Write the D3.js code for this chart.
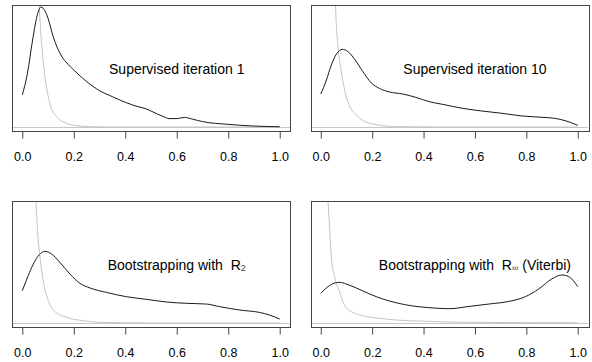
<!DOCTYPE html>
<html><head><meta charset="utf-8">
<script src="https://cdn.jsdelivr.net/npm/d3@7/dist/d3.min.js"></script>
<style>body{margin:0;background:#fff}svg{display:block}text{white-space:pre}</style>
</head><body><svg id="c" width="592" height="362"></svg>
<script>
// ---- data ----
const xTicks = [0, 0.2, 0.4, 0.6, 0.8, 1.0];
const tickLabels = ["0.0", "0.2", "0.4", "0.6", "0.8", "1.0"];
const titleMain = ["Supervised iteration 1", "Supervised iteration 10", "Bootstrapping with  R", "Bootstrapping with  R"];
const titleSub = ["", "", "2", "\u221E"];
const titleTail = ["", "", "", " (Viterbi)"];

const sup1Black = [[0,2.67],[0.02,4.47],[0.04,7.25],[0.06,9.47],[0.072,10.0],[0.09,9.6],[0.1,9.06],[0.12,7.53],[0.15,6.0],[0.18,5.17],[0.2,4.75],[0.25,3.78],[0.3,3.03],[0.35,2.53],[0.4,2.06],[0.45,1.69],[0.48,1.52],[0.5,1.33],[0.55,0.85],[0.57,0.7],[0.6,0.7],[0.63,0.8],[0.66,0.66],[0.7,0.45],[0.8,0.22],[0.9,0.08],[1.0,0.02]];
const sup1Gray = [[0.05,16],[0.06,13],[0.066,10.0],[0.075,6.97],[0.088,4.19],[0.107,1.97],[0.133,0.86],[0.172,0.31],[0.224,0.08],[0.314,0.0],[1.0,0.0]];

const sup10Black = [[0,2.75],[0.022,3.92],[0.041,5.17],[0.061,6.08],[0.084,6.47],[0.106,6.28],[0.132,5.64],[0.164,4.61],[0.196,3.69],[0.228,3.22],[0.267,2.92],[0.319,2.75],[0.37,2.47],[0.422,2.11],[0.474,1.89],[0.551,1.56],[0.628,1.33],[0.706,1.14],[0.783,0.92],[0.861,0.81],[0.912,0.72],[0.951,0.53],[1.0,0.14]];
const sup10Gray = [[0.045,16],[0.052,12.5],[0.057,10.3],[0.061,8.36],[0.067,6.69],[0.08,4.61],[0.099,2.53],[0.138,1.0],[0.203,0.25],[0.293,0.03],[0.47,0.0],[1.0,0.0]];

const boot2Black = [[0,2.69],[0.023,3.94],[0.043,4.92],[0.066,5.69],[0.088,5.97],[0.114,5.75],[0.146,5.05],[0.185,4.08],[0.224,3.3],[0.263,2.92],[0.327,2.55],[0.405,2.19],[0.483,1.97],[0.56,1.75],[0.638,1.64],[0.715,1.58],[0.767,1.36],[0.845,1.08],[0.922,0.88],[0.961,0.66],[1.0,0.33]];
const boot2Gray = [[0.04,16],[0.047,12.5],[0.053,10.2],[0.06,7.42],[0.069,5.47],[0.081,3.53],[0.101,1.86],[0.127,0.94],[0.172,0.47],[0.237,0.19],[0.301,0.06],[0.5,0.0],[1.0,0.0]];

const bootInfBlack = [[0,2.47],[0.028,3.03],[0.054,3.33],[0.074,3.39],[0.099,3.25],[0.138,2.92],[0.19,2.42],[0.241,2.0],[0.293,1.69],[0.357,1.42],[0.422,1.28],[0.499,1.19],[0.577,1.38],[0.654,1.58],[0.732,1.8],[0.796,2.19],[0.848,2.83],[0.899,3.67],[0.938,4.0],[0.957,3.94],[0.983,3.53],[1.0,3.03]];
const bootInfGray = [[0.015,16],[0.022,12.5],[0.028,10.2],[0.035,7.69],[0.041,5.47],[0.054,3.8],[0.074,2.55],[0.093,1.44],[0.125,0.88],[0.164,0.61],[0.228,0.39],[0.293,0.25],[0.422,0.14],[0.5,0.08],[0.8,0.03],[1.0,0.02]];

const blackSeries = [sup1Black, sup10Black, boot2Black, bootInfBlack];
const graySeries = [sup1Gray, sup10Gray, boot2Gray, bootInfGray];

// ---- layout ----
const boxes = [
  {x0: 12, x1: 290, y0: 5, y1: 131},
  {x0: 310.5, x1: 588, y0: 5, y1: 131},
  {x0: 12, x1: 290, y0: 201, y1: 327},
  {x0: 310.5, x1: 588, y0: 201, y1: 327}
];
const yDomain = [-0.333, 10.167];

const svg = d3.select("#c");
const font = "'Liberation Sans', Arial, Helvetica, sans-serif";

boxes.forEach((b, i) => {
  const x = d3.scaleLinear().domain([-0.04, 1.04]).range([b.x0, b.x1]);
  const y = d3.scaleLinear().domain(yDomain).range([b.y1, b.y0]);
  const g = svg.append("g");
  const cid = "clip" + i;
  svg.append("clipPath").attr("id", cid).append("rect")
    .attr("x", b.x0).attr("y", b.y0).attr("width", b.x1 - b.x0).attr("height", b.y1 - b.y0);
  const pg = g.append("g").attr("clip-path", `url(#${cid})`);

  // baseline at 0
  pg.append("line").attr("x1", b.x0).attr("x2", b.x1)
    .attr("y1", Math.round(y(0)) + 0.5).attr("y2", Math.round(y(0)) + 0.5)
    .attr("stroke", "#c8c8c8").attr("stroke-width", 1);

  const line = d3.line().x(d => x(d[0])).y(d => y(d[1])).curve(d3.curveMonotoneX);
  pg.append("path").datum(graySeries[i]).attr("d", line)
    .attr("fill", "none").attr("stroke", "#c4c4c4").attr("stroke-width", 1);
  pg.append("path").datum(blackSeries[i]).attr("d", line)
    .attr("fill", "none").attr("stroke", "#1a1a1a").attr("stroke-width", 1);

  // box
  g.append("rect").attr("x", Math.round(b.x0) + 0.5).attr("y", b.y0 + 0.5)
    .attr("width", Math.round(b.x1 - b.x0)).attr("height", b.y1 - b.y0)
    .attr("fill", "none").attr("stroke", "#444").attr("stroke-width", 1);

  // x axis
  const ax = g.append("g").attr("transform", `translate(0,${b.y1 + 0.5})`)
    .call(d3.axisBottom(x).tickValues(xTicks).tickFormat((d, k) => tickLabels[k])
      .tickSize(7).tickPadding(14));
  ax.select(".domain").remove();
  ax.selectAll(".tick line").attr("stroke", "#444");
  ax.selectAll(".tick text").attr("font-family", font).attr("font-size", 12.5).attr("fill", "#000");

  // title
  const t = g.append("text").attr("x", x(0.6)).attr("y", b.y0 + 64)
    .attr("text-anchor", "middle").attr("dominant-baseline", "central")
    .attr("font-family", font).attr("font-size", 14).attr("fill", "#000");
  t.append("tspan").text(titleMain[i]);
  if (titleSub[i]) {
    t.append("tspan").attr("font-size", 9).attr("dy", 3).attr("fill", "#444").text(titleSub[i]);
  }
  if (titleTail[i]) {
    t.append("tspan").attr("dy", -3).text(titleTail[i]);
  }
});
</script></body></html>
